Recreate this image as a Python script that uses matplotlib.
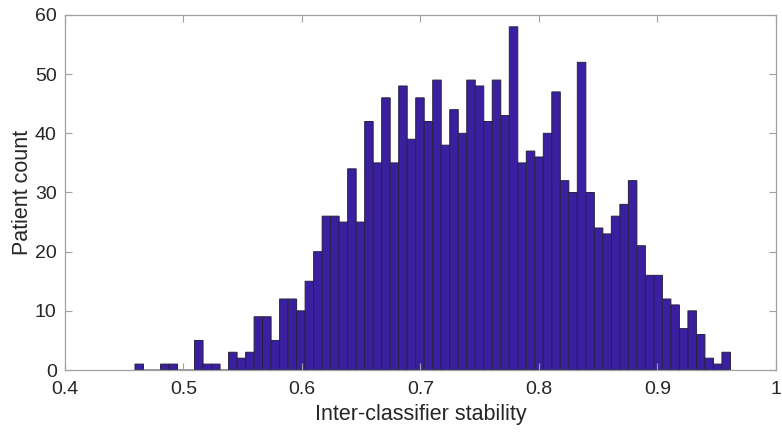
import numpy as np
import matplotlib
matplotlib.use("Agg")
import matplotlib.pyplot as plt

plt.rcParams['font.family'] = ['Liberation Sans', 'DejaVu Sans']

# Histogram data (70 bins)
bin_start = 0.4591
bin_width = 0.00718
counts = [1, 0, 0, 1, 1, 0, 0, 5, 1, 1,
          0, 3, 2, 3, 9, 9, 5, 12, 12, 10,
          15, 20, 26, 26, 25, 34, 25, 42, 35, 46,
          35, 48, 39, 46, 42, 49, 38, 44, 40, 49,
          48, 42, 49, 43, 58, 35, 37, 36, 40, 47,
          32, 30, 52, 30, 24, 23, 26, 28, 32, 21,
          16, 16, 12, 11, 7, 10, 6, 2, 1, 3]
x_ticks = [0.4, 0.5, 0.6, 0.7, 0.8, 0.9, 1.0]
x_tick_labels = ["0.4", "0.5", "0.6", "0.7", "0.8", "0.9", "1"]
y_ticks = [0, 10, 20, 30, 40, 50, 60]
x_label = "Inter-classifier stability"
y_label = "Patient count"

edges = bin_start + bin_width * np.arange(len(counts) + 1)

fig = plt.figure(figsize=(7.82, 4.37), dpi=100)
ax = fig.add_axes([0.0831, 0.1533, 0.9090, 0.8124])

ax.bar(edges[:-1], counts, width=bin_width, align='edge', color='#3a20a0',
       edgecolor='#26223f', linewidth=0.7, snap=False)

ax.set_xlim(0.4, 1.0)
ax.set_ylim(0, 60)
ax.set_xticks(x_ticks)
ax.set_xticklabels(x_tick_labels)
ax.set_yticks(y_ticks)

spine_color = '#a0a0a0'
for s in ax.spines.values():
    s.set_color(spine_color)
    s.set_linewidth(0.9)
ax.tick_params(direction='in', length=5, width=0.8, color=spine_color,
               top=True, right=True, labelsize=14, labelcolor='#262626')
ax.tick_params(axis='x', pad=8)
ax.tick_params(axis='y', pad=6)

ax.set_xlabel(x_label, fontsize=15.5, color='#262626', labelpad=4)
ax.set_ylabel(y_label, fontsize=15.5, color='#262626', labelpad=1)

fig.savefig("out.png", dpi=100)
